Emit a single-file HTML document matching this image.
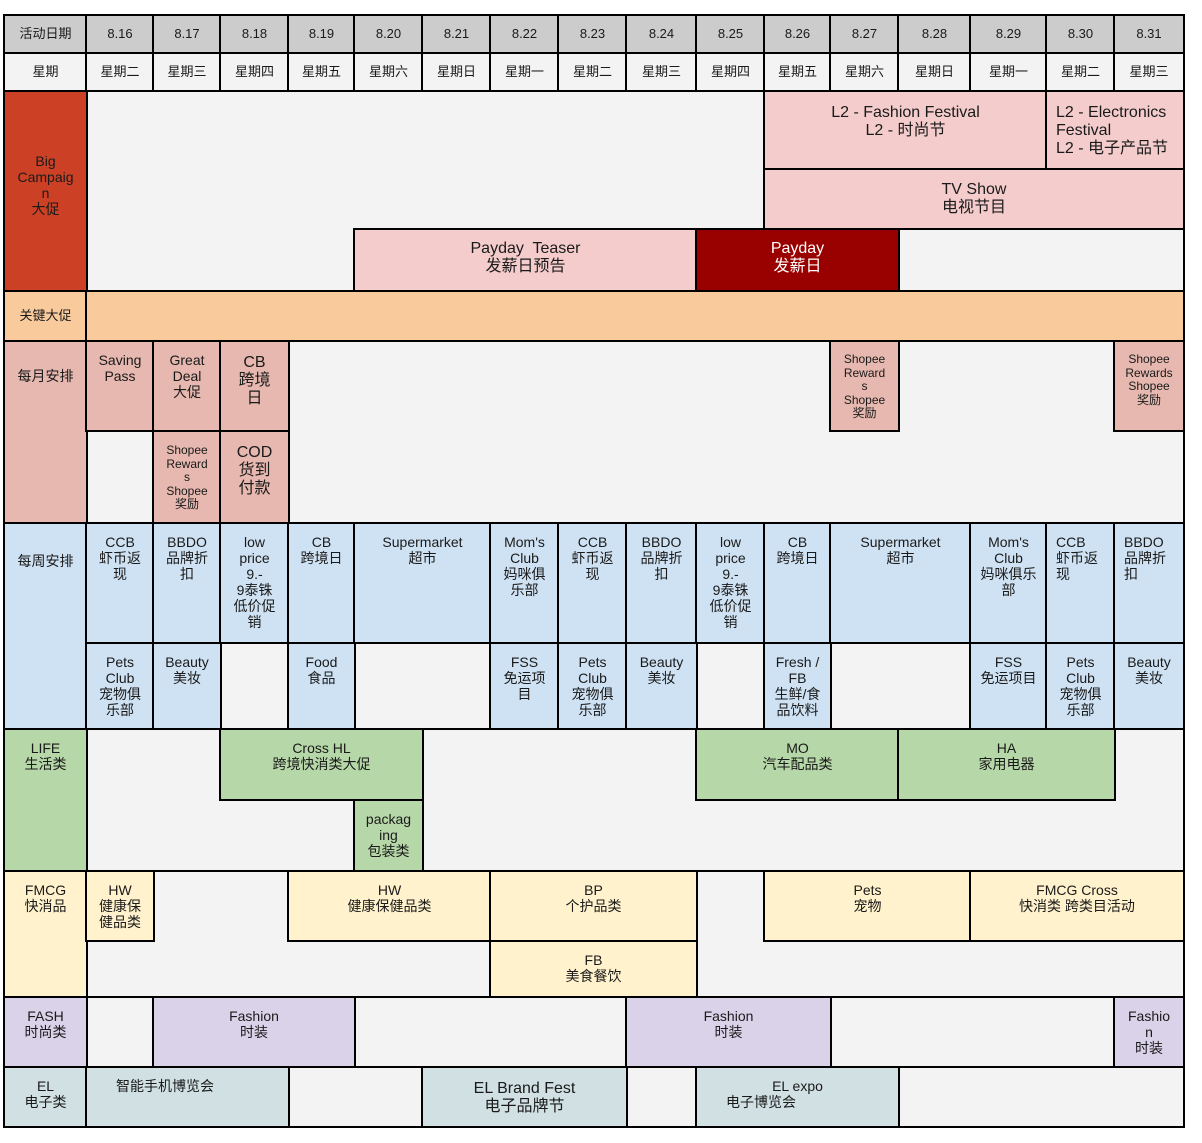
<!DOCTYPE html>
<html><head><meta charset="utf-8"><style>
body{margin:0;background:#fff;width:1202px;height:1143px;position:relative;overflow:hidden;font-family:"Liberation Sans","Noto Sans CJK SC",sans-serif;color:#1a1a1a}
#bg{position:absolute;left:3px;top:14px;width:1182px;height:1114px;background:#f3f3f3;box-sizing:border-box;border:2px solid #000}
.hl{position:absolute;left:3px;width:1182px;height:2px;background:#000}
.vl{position:absolute;width:2px;background:#000}
.c{position:absolute;box-sizing:border-box;border:2px solid #000;text-align:center;padding:10px 2px 0;font-size:14px;line-height:16px;white-space:nowrap;overflow:hidden}
.h{padding:0;display:flex;align-items:center;justify-content:center;font-size:13px}
.g{background:#cccccc}.w{background:#f3f3f3}
.big{background:#cc4125}.pk{background:#f4cccc}.pd{background:#990000;color:#fff}
.key{background:#f9cb9c}.mo{background:#e6b8af}.wk{background:#cfe2f3}
.lf{background:#b6d7a8}.fm{background:#fff2cc}.fa{background:#d9d2e9}.el{background:#d0e0e3}
.l16{font-size:16px;line-height:18px}
.s12{font-size:12px;line-height:13.5px}
.L{text-align:left;padding-left:9px}
</style></head><body>
<div id="bg"></div>
<div class="hl" style="top:90px"></div>
<div class="hl" style="top:290px"></div>
<div class="hl" style="top:340px"></div>
<div class="hl" style="top:522px"></div>
<div class="hl" style="top:728px"></div>
<div class="hl" style="top:870px"></div>
<div class="hl" style="top:996px"></div>
<div class="hl" style="top:1066px"></div>
<div class="vl" style="left:85px;top:14px;height:1114px"></div>
<!-- header -->
<div class="c h g" style="left:3px;top:14px;width:85px;height:40px">活动日期</div>
<div class="c h g" style="left:85px;top:14px;width:70px;height:40px">8.16</div>
<div class="c h g" style="left:152px;top:14px;width:70px;height:40px">8.17</div>
<div class="c h g" style="left:219px;top:14px;width:71px;height:40px">8.18</div>
<div class="c h g" style="left:287px;top:14px;width:69px;height:40px">8.19</div>
<div class="c h g" style="left:353px;top:14px;width:71px;height:40px">8.20</div>
<div class="c h g" style="left:421px;top:14px;width:71px;height:40px">8.21</div>
<div class="c h g" style="left:489px;top:14px;width:71px;height:40px">8.22</div>
<div class="c h g" style="left:557px;top:14px;width:71px;height:40px">8.23</div>
<div class="c h g" style="left:625px;top:14px;width:73px;height:40px">8.24</div>
<div class="c h g" style="left:695px;top:14px;width:71px;height:40px">8.25</div>
<div class="c h g" style="left:763px;top:14px;width:69px;height:40px">8.26</div>
<div class="c h g" style="left:829px;top:14px;width:71px;height:40px">8.27</div>
<div class="c h g" style="left:897px;top:14px;width:75px;height:40px">8.28</div>
<div class="c h g" style="left:969px;top:14px;width:79px;height:40px">8.29</div>
<div class="c h g" style="left:1045px;top:14px;width:71px;height:40px">8.30</div>
<div class="c h g" style="left:1113px;top:14px;width:72px;height:40px">8.31</div>

<div class="c h w" style="left:3px;top:52px;width:85px;height:40px">星期</div>
<div class="c h w" style="left:85px;top:52px;width:70px;height:40px">星期二</div>
<div class="c h w" style="left:152px;top:52px;width:70px;height:40px">星期三</div>
<div class="c h w" style="left:219px;top:52px;width:71px;height:40px">星期四</div>
<div class="c h w" style="left:287px;top:52px;width:69px;height:40px">星期五</div>
<div class="c h w" style="left:353px;top:52px;width:71px;height:40px">星期六</div>
<div class="c h w" style="left:421px;top:52px;width:71px;height:40px">星期日</div>
<div class="c h w" style="left:489px;top:52px;width:71px;height:40px">星期一</div>
<div class="c h w" style="left:557px;top:52px;width:71px;height:40px">星期二</div>
<div class="c h w" style="left:625px;top:52px;width:73px;height:40px">星期三</div>
<div class="c h w" style="left:695px;top:52px;width:71px;height:40px">星期四</div>
<div class="c h w" style="left:763px;top:52px;width:69px;height:40px">星期五</div>
<div class="c h w" style="left:829px;top:52px;width:71px;height:40px">星期六</div>
<div class="c h w" style="left:897px;top:52px;width:75px;height:40px">星期日</div>
<div class="c h w" style="left:969px;top:52px;width:79px;height:40px">星期一</div>
<div class="c h w" style="left:1045px;top:52px;width:71px;height:40px">星期二</div>
<div class="c h w" style="left:1113px;top:52px;width:72px;height:40px">星期三</div>

<!-- Big campaign -->
<div class="c big" style="left:3px;top:90px;width:85px;height:202px;padding-top:61px">Big<br>Campaig<br>n<br>大促</div>
<div class="c pk l16" style="left:763px;top:90px;width:285px;height:80px;padding-top:12px">L2 - Fashion Festival<br>L2 - 时尚节</div>
<div class="c pk l16 L" style="left:1045px;top:90px;width:140px;height:80px;padding-top:12px">L2 - Electronics<br>Festival<br>L2 - 电子产品节</div>
<div class="c pk l16" style="left:763px;top:168px;width:422px;height:62px;padding-top:11px">TV Show<br>电视节目</div>
<div class="c pk l16" style="left:353px;top:228px;width:345px;height:64px;padding-top:10px">Payday&nbsp; Teaser<br>发薪日预告</div>
<div class="c pd l16" style="left:695px;top:228px;width:205px;height:64px;padding-top:10px">Payday<br>发薪日</div>

<!-- key -->
<div class="c h key" style="left:3px;top:290px;width:85px;height:52px">关键大促</div>
<div class="c key" style="left:85px;top:290px;width:1100px;height:52px"></div>

<!-- monthly -->
<div class="c mo" style="left:3px;top:340px;width:85px;height:184px;padding-top:26px">每月安排</div>
<div class="c mo" style="left:85px;top:340px;width:70px;height:92px">Saving<br>Pass</div>
<div class="c mo" style="left:152px;top:340px;width:70px;height:92px">Great<br>Deal<br>大促</div>
<div class="c mo l16" style="left:219px;top:340px;width:71px;height:92px;padding-top:12px">CB<br>跨境<br>日</div>
<div class="c mo s12" style="left:829px;top:340px;width:71px;height:92px;padding-top:11px">Shopee<br>Reward<br>s<br>Shopee<br>奖励</div>
<div class="c mo s12" style="left:1113px;top:340px;width:72px;height:92px;padding-top:11px">Shopee<br>Rewards<br>Shopee<br>奖励</div>
<div class="c mo s12" style="left:152px;top:430px;width:70px;height:94px;padding-top:12px">Shopee<br>Reward<br>s<br>Shopee<br>奖励</div>
<div class="c mo l16" style="left:219px;top:430px;width:71px;height:94px;padding-top:12px">COD<br>货到<br>付款</div>

<!-- weekly -->
<div class="c wk" style="left:3px;top:522px;width:85px;height:208px;padding-top:29px">每周安排</div>
<div class="c wk" style="left:85px;top:522px;width:70px;height:122px">CCB<br>虾币返<br>现</div>
<div class="c wk" style="left:152px;top:522px;width:70px;height:122px">BBDO<br>品牌折<br>扣</div>
<div class="c wk" style="left:219px;top:522px;width:71px;height:122px">low<br>price<br>9.-<br>9泰铢<br>低价促<br>销</div>
<div class="c wk" style="left:287px;top:522px;width:69px;height:122px">CB<br>跨境日</div>
<div class="c wk" style="left:353px;top:522px;width:139px;height:122px">Supermarket<br>超市</div>
<div class="c wk" style="left:489px;top:522px;width:71px;height:122px">Mom's<br>Club<br>妈咪俱<br>乐部</div>
<div class="c wk" style="left:557px;top:522px;width:71px;height:122px">CCB<br>虾币返<br>现</div>
<div class="c wk" style="left:625px;top:522px;width:73px;height:122px">BBDO<br>品牌折<br>扣</div>
<div class="c wk" style="left:695px;top:522px;width:71px;height:122px">low<br>price<br>9.-<br>9泰铢<br>低价促<br>销</div>
<div class="c wk" style="left:763px;top:522px;width:69px;height:122px">CB<br>跨境日</div>
<div class="c wk" style="left:829px;top:522px;width:143px;height:122px">Supermarket<br>超市</div>
<div class="c wk" style="left:969px;top:522px;width:79px;height:122px">Mom's<br>Club<br>妈咪俱乐<br>部</div>
<div class="c wk L" style="left:1045px;top:522px;width:71px;height:122px">CCB<br>虾币返<br>现</div>
<div class="c wk L" style="left:1113px;top:522px;width:72px;height:122px">BBDO<br>品牌折<br>扣</div>

<div class="c wk" style="left:85px;top:642px;width:70px;height:88px">Pets<br>Club<br>宠物俱<br>乐部</div>
<div class="c wk" style="left:152px;top:642px;width:70px;height:88px">Beauty<br>美妆</div>
<div class="c wk" style="left:287px;top:642px;width:69px;height:88px">Food<br>食品</div>
<div class="c wk" style="left:489px;top:642px;width:71px;height:88px">FSS<br>免运项<br>目</div>
<div class="c wk" style="left:557px;top:642px;width:71px;height:88px">Pets<br>Club<br>宠物俱<br>乐部</div>
<div class="c wk" style="left:625px;top:642px;width:73px;height:88px">Beauty<br>美妆</div>
<div class="c wk" style="left:763px;top:642px;width:69px;height:88px">Fresh /<br>FB<br>生鲜/食<br>品饮料</div>
<div class="c wk" style="left:969px;top:642px;width:79px;height:88px">FSS<br>免运项目</div>
<div class="c wk" style="left:1045px;top:642px;width:71px;height:88px">Pets<br>Club<br>宠物俱<br>乐部</div>
<div class="c wk" style="left:1113px;top:642px;width:72px;height:88px">Beauty<br>美妆</div>

<!-- LIFE -->
<div class="c lf" style="left:3px;top:728px;width:85px;height:144px">LIFE<br>生活类</div>
<div class="c lf" style="left:219px;top:728px;width:205px;height:73px">Cross HL<br>跨境快消类大促</div>
<div class="c lf" style="left:353px;top:799px;width:71px;height:73px">packag<br>ing<br>包装类</div>
<div class="c lf" style="left:695px;top:728px;width:205px;height:73px">MO<br>汽车配品类</div>
<div class="c lf" style="left:897px;top:728px;width:219px;height:73px">HA<br>家用电器</div>

<!-- FMCG -->
<div class="c fm" style="left:3px;top:870px;width:85px;height:128px">FMCG<br>快消品</div>
<div class="c fm" style="left:85px;top:870px;width:70px;height:72px">HW<br>健康保<br>健品类</div>
<div class="c fm" style="left:287px;top:870px;width:205px;height:72px">HW<br>健康保健品类</div>
<div class="c fm" style="left:489px;top:870px;width:209px;height:72px">BP<br>个护品类</div>
<div class="c fm" style="left:489px;top:940px;width:209px;height:58px">FB<br>美食餐饮</div>
<div class="c fm" style="left:763px;top:870px;width:209px;height:72px">Pets<br>宠物</div>
<div class="c fm" style="left:969px;top:870px;width:216px;height:72px">FMCG Cross<br>快消类 跨类目活动</div>

<!-- FASH -->
<div class="c fa" style="left:3px;top:996px;width:85px;height:72px">FASH<br>时尚类</div>
<div class="c fa" style="left:152px;top:996px;width:204px;height:72px">Fashion<br>时装</div>
<div class="c fa" style="left:625px;top:996px;width:207px;height:72px">Fashion<br>时装</div>
<div class="c fa" style="left:1113px;top:996px;width:72px;height:72px">Fashio<br>n<br>时装</div>

<!-- EL -->
<div class="c el" style="left:3px;top:1066px;width:85px;height:62px">EL<br>电子类</div>
<div class="c el" style="left:85px;top:1066px;width:205px;height:62px;text-align:left;padding-left:29px">智能手机博览会</div>
<div class="c el l16" style="left:421px;top:1066px;width:207px;height:62px;padding-top:12px">EL Brand Fest<br>电子品牌节</div>
<div class="c el" style="left:695px;top:1066px;width:205px;height:62px"><div>EL expo</div><div style="text-align:left;padding-left:27px">电子博览会</div></div>
</body></html>
